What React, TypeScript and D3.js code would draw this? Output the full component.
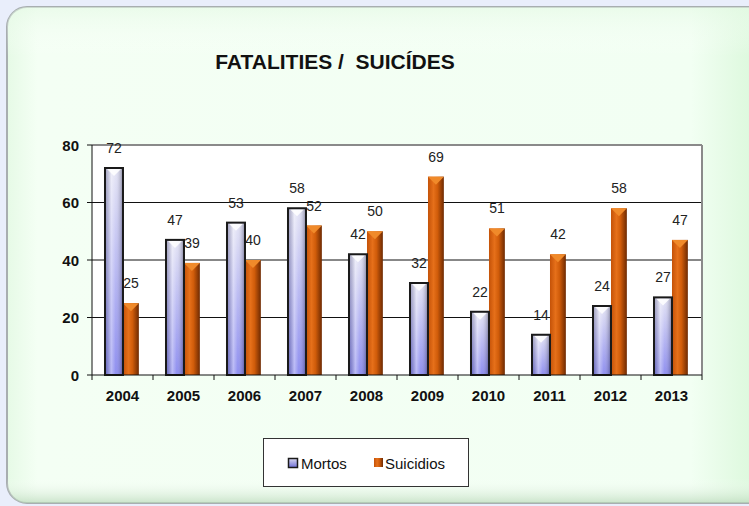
import React from "react";
import * as d3 from "d3";

const categories = ["2004", "2005", "2006", "2007", "2008", "2009", "2010", "2011", "2012", "2013"];
const mortos = [72, 47, 53, 58, 42, 32, 22, 14, 24, 27];
const suicidios = [25, 39, 40, 52, 50, 69, 51, 42, 58, 47];
const yTicks = [0, 20, 40, 60, 80];
const seriesNames = ["Mortos", "Suicidios"];
const title = "FATALITIES /  SUICÍDES";

const W = 749;
const H = 506;
const plot = { left: 92, right: 702, top: 145, bottom: 375 };

export default function App() {
  const x = d3.scaleBand<string>().domain(categories).range([plot.left, plot.right]).padding(0);
  const y = d3.scaleLinear().domain([0, 80]).range([plot.bottom, plot.top]);
  const bw = x.bandwidth();
  const mOff = bw * 0.213;
  const mW = bw * 0.295;
  const sOff = mOff + mW;
  const sW = bw * 0.26;
  const font = "Liberation Sans, Arial, sans-serif";

  return (
    <svg width={W} height={H} style={{ position: "absolute", left: 0, top: 0 }} fontFamily={font}>
      <defs>
        <linearGradient id="panelBg" x1="0" y1="0" x2="1" y2="0">
          <stop offset="0" stopColor="#e6fae6" />
          <stop offset="0.04" stopColor="#f4fff4" />
          <stop offset="0.9" stopColor="#f2fff3" />
          <stop offset="1" stopColor="#d8f7d8" />
        </linearGradient>
        <linearGradient id="panelV" x1="0" y1="0" x2="0" y2="1">
          <stop offset="0" stopColor="#e4f9e4" stopOpacity="0.6" />
          <stop offset="0.1" stopColor="#ffffff" stopOpacity="0" />
          <stop offset="0.95" stopColor="#ffffff" stopOpacity="0" />
          <stop offset="1" stopColor="#b8d8b8" stopOpacity="0.7" />
        </linearGradient>
        <linearGradient id="mortV" x1="0" y1="0" x2="0" y2="1">
          <stop offset="0" stopColor="#e2e2f4" />
          <stop offset="1" stopColor="#8282ee" />
        </linearGradient>
        <linearGradient id="mortH" x1="0" y1="0" x2="1" y2="0">
          <stop offset="0" stopColor="#303060" stopOpacity="0.35" />
          <stop offset="0.35" stopColor="#ffffff" stopOpacity="0.45" />
          <stop offset="0.6" stopColor="#ffffff" stopOpacity="0.1" />
          <stop offset="1" stopColor="#202040" stopOpacity="0.45" />
        </linearGradient>
        <linearGradient id="suicH" x1="0" y1="0" x2="1" y2="0">
          <stop offset="0" stopColor="#c45208" />
          <stop offset="0.35" stopColor="#e6701a" />
          <stop offset="0.6" stopColor="#d05c0a" />
          <stop offset="1" stopColor="#6e2a02" />
        </linearGradient>
        <linearGradient id="legM" x1="0" y1="0" x2="0" y2="1">
          <stop offset="0" stopColor="#d8d8f0" />
          <stop offset="1" stopColor="#7070d8" />
        </linearGradient>
      </defs>

      <rect x={0} y={0} width={W} height={H} fill="#e9eefb" />
      <rect x={7} y={7} width={760} height={496} rx={20} ry={20} fill="url(#panelBg)" stroke="#a8aeb0" strokeWidth={2} />
      <rect x={7} y={7} width={760} height={496} rx={20} ry={20} fill="url(#panelV)" />

      <text x={335} y={69} textAnchor="middle" fontSize={21} fontWeight="bold" fill="#111" style={{ whiteSpace: "pre" }}>
        {title}
      </text>

      {/* plot area */}
      <rect x={plot.left} y={plot.top} width={plot.right - plot.left} height={plot.bottom - plot.top} fill="#ffffff" />
      {yTicks.filter((t) => t > 0 && t < 80).map((t) => (
        <line key={t} x1={plot.left} x2={plot.right} y1={y(t)} y2={y(t)} stroke="#111" strokeWidth={1} />
      ))}
      <line x1={plot.left} x2={plot.right} y1={y(80)} y2={y(80)} stroke="#8a8a8a" strokeWidth={2} />
      <line x1={plot.right} x2={plot.right} y1={plot.top} y2={plot.bottom} stroke="#8a8a8a" strokeWidth={2} />

      {/* bars */}
      {categories.map((c, i) => {
        const x0 = x(c)!;
        const mx = x0 + mOff;
        const my = y(mortos[i]);
        const mh = plot.bottom - my;
        const sx = x0 + sOff;
        const sy = y(suicidios[i]);
        const sh = plot.bottom - sy;
        return (
          <g key={c}>
            <rect x={sx} y={sy} width={sW} height={sh} fill="url(#suicH)" />
            <path d={`M${sx},${sy} L${sx + sW},${sy} L${sx + sW / 2},${sy + 8} Z`} fill="#f08a2a" />
            <rect x={mx} y={my} width={mW} height={mh} fill="url(#mortV)" />
            <rect x={mx} y={my} width={mW} height={mh} fill="url(#mortH)" />
            <path d={`M${mx + 2},${my + 1} L${mx + mW - 2},${my + 1} L${mx + mW / 2},${my + 8} Z`} fill="#ffffff" opacity={0.85} />
            <rect x={mx} y={my} width={mW} height={mh} fill="none" stroke="#1a1a1a" strokeWidth={2} />
            <text x={mx + mW / 2} y={my - 15} textAnchor="middle" fontSize={14} fill="#222">{mortos[i]}</text>
            <text x={sx + sW / 2} y={sy - 15} textAnchor="middle" fontSize={14} fill="#222">{suicidios[i]}</text>
          </g>
        );
      })}

      {/* axes */}
      <line x1={plot.left} x2={plot.left} y1={plot.top} y2={plot.bottom} stroke="#111" strokeWidth={1} />
      <line x1={plot.left} x2={plot.right} y1={plot.bottom} y2={plot.bottom} stroke="#111" strokeWidth={1} />
      {yTicks.map((t) => (
        <g key={t}>
          <line x1={plot.left - 5} x2={plot.left} y1={y(t)} y2={y(t)} stroke="#111" />
          <text x={79} y={y(t) + 5.5} textAnchor="end" fontSize={15} fontWeight="bold" fill="#111">{t}</text>
        </g>
      ))}
      {categories.map((c) => (
        <text key={c} x={x(c)! + bw / 2} y={401} textAnchor="middle" fontSize={15} fontWeight="bold" fill="#111">{c}</text>
      ))}
      {[...categories.map((c) => x(c)!), plot.right].map((v, i) => (
        <line key={i} x1={v} x2={v} y1={plot.bottom} y2={plot.bottom + 5} stroke="#111" />
      ))}

      {/* legend */}
      <rect x={263.5} y={438.5} width={205} height={48} fill="#ffffff" stroke="#333" strokeWidth={1} />
      <rect x={288.5} y={458.5} width={9} height={9} fill="url(#legM)" stroke="#1a1a1a" strokeWidth={1.5} />
      <text x={301} y={468.5} fontSize={15} fill="#111">{seriesNames[0]}</text>
      <rect x={374} y={458} width={9} height={9} fill="url(#suicH)" />
      <text x={385} y={468.5} fontSize={15} fill="#111">{seriesNames[1]}</text>
    </svg>
  );
}
